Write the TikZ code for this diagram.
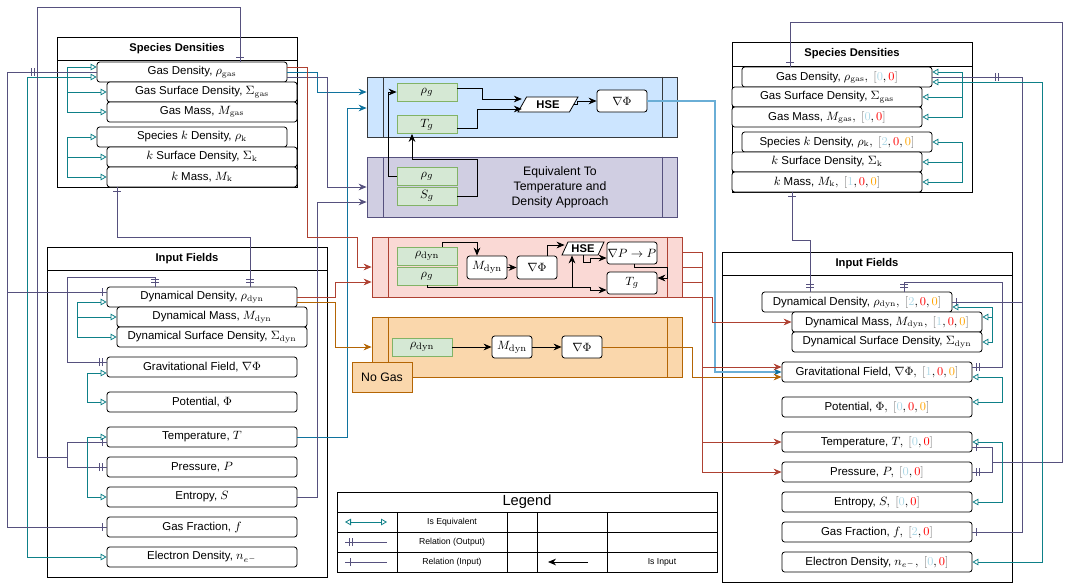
\documentclass[tikz,border=0pt]{standalone}
\usepackage{amsmath}
\usepackage[no-math]{fontspec}
\setmainfont{Liberation Sans}
\usepackage{tikz}
\usetikzlibrary{arrows.meta,decorations.markings,shapes.geometric}
\definecolor{eqteal}{HTML}{0E8088}
\definecolor{relpurple}{HTML}{56517E}
\definecolor{inblue}{HTML}{10739E}
\definecolor{lineblue}{HTML}{6AAED6}
\definecolor{inred}{HTML}{AE4132}
\definecolor{inorange}{HTML}{B46504}
\definecolor{fillblue}{HTML}{CCE5FF}
\definecolor{fillpurple}{HTML}{D0CEE2}
\definecolor{fillred}{HTML}{FAD9D5}
\definecolor{fillorange}{HTML}{FAD7AC}
\definecolor{fillgreen}{HTML}{D5E8D4}
\definecolor{strokegreen}{HTML}{82B366}
\definecolor{boxgray}{HTML}{36393D}
\definecolor{vblue}{HTML}{ADD8E6}
\definecolor{vred}{HTML}{FF0000}
\definecolor{vorange}{HTML}{FFA500}
\newcommand{\vtwo}[2]{\textcolor{gray}{[}\textcolor{vblue}{#1},\textcolor{vred}{#2}\textcolor{gray}{]}}
\newcommand{\vthree}[3]{\textcolor{gray}{[}\textcolor{vblue}{#1},\textcolor{vred}{#2},\textcolor{vorange}{#3}\textcolor{gray}{]}}

\begin{document}
\begin{tikzpicture}[x=0.75pt, y=-0.75pt, line width=0.6pt,
	fld/.style={draw, rounded corners=2pt, fill=white, minimum width=142.5pt, minimum height=15pt, inner sep=0pt, font=\fontsize{8.6}{10}\selectfont},
	hdr/.style={draw, fill=white, inner sep=0pt, font=\fontsize{8.4}{10}\selectfont\bfseries},
	cnt/.style={draw, inner sep=0pt},
	gbox/.style={draw=strokegreen, fill=fillgreen, minimum width=45pt, minimum height=13.5pt, inner sep=0pt, font=\fontsize{9.5}{10}\selectfont},
	calcbox/.style={draw, rounded corners=2pt, fill=white, inner sep=0pt, font=\fontsize{9.5}{10}\selectfont},
	hse/.style={trapezium, trapezium left angle=60, trapezium right angle=120, trapezium stretches=true, draw, fill=white, inner sep=0pt, font=\fontsize{8.4}{9}\selectfont\bfseries},
	legtxt/.style={font=\fontsize{6.5}{7.5}\selectfont},
	rel/.style={draw=relpurple},
	erbar/.style={postaction={decorate, decoration={markings, mark=at position #1 with {\draw[relpurple, line width=0.6pt] (0, -3pt) -- (0, 3pt);}}}},
	eqv/.style={draw=eqteal, {Triangle[open, length=4.5pt, width=5pt]}-{Triangle[open, length=4.5pt, width=5pt]}},
	eqto/.style={draw=eqteal, -{Triangle[open, length=4.5pt, width=5pt]}},
	inp/.style={-{Stealth[length=6pt, width=5pt]}}
	]
	\useasboundingbox (0, 0) rectangle (1072, 583);

	\node[hdr, minimum width=180pt, minimum height=17.25pt] (spLh) at (177, 48.5) {Species Densities};
	\node[cnt, minimum width=180pt, minimum height=95.25pt] (spL) at (177, 123.5) {};
	\node[fld] (gasdL) at (192, 72) {Gas Density, \(\rho_{\mathrm{gas}}\)};
	\node[fld] (gassL) at (202, 92) {Gas Surface Density, \(\Sigma_{\mathrm{gas}}\)};
	\node[fld] (gasmL) at (202, 112) {Gas Mass, \(M_{\mathrm{gas}}\)};
	\node[fld] (kdL) at (192, 137) {Species \(k\) Density, \(\rho_{\mathrm{k}}\)};
	\node[fld] (ksL) at (202, 157) {\(k\) Surface Density, \(\Sigma_{\mathrm{k}}\)};
	\node[fld] (kmL) at (202, 177) {\(k\) Mass, \(M_{\mathrm{k}}\)};

	\node[hdr, minimum width=210pt, minimum height=17.25pt] (ifLh) at (187, 258.5) {Input Fields};
	\node[cnt, minimum width=210pt, minimum height=230.25pt] (ifL) at (187, 423.5) {};
	\node[fld] (dyndL) at (202, 297) {Dynamical Density, \(\rho_{\mathrm{dyn}}\)};
	\node[fld] (dynmL) at (212, 317) {Dynamical Mass, \(M_{\mathrm{dyn}}\)};
	\node[fld] (dynsL) at (212, 337) {Dynamical Surface Density, \(\Sigma_{\mathrm{dyn}}\)};
	\node[fld] (gravL) at (202, 367) {Gravitational Field, \(\nabla\Phi\)};
	\node[fld] (potL) at (202, 402) {Potential, \(\Phi\)};
	\node[fld] (tempL) at (202, 437) {Temperature, \(T\)};
	\node[fld] (presL) at (202, 467) {Pressure, \(P\)};
	\node[fld] (entL) at (202, 497) {Entropy, \(S\)};
	\node[fld] (gfL) at (202, 527) {Gas Fraction, \(f\)};
	\node[fld] (eldL) at (202, 557) {Electron Density, \(n_{e^-}\)};

	\node[hdr, minimum width=180pt, minimum height=18pt] (spRh) at (852, 54) {Species Densities};
	\node[cnt, minimum width=180pt, minimum height=94.5pt] (spR) at (852, 129) {};
	\node[fld] (gasdR) at (837, 77) {Gas Density, \(\rho_{\mathrm{gas}},\ \vtwo{0}{0}\)};
	\node[fld] (gassR) at (827, 97) {Gas Surface Density, \(\Sigma_{\mathrm{gas}}\)};
	\node[fld] (gasmR) at (827, 117) {Gas Mass, \(M_{\mathrm{gas}},\ \vtwo{0}{0}\)};
	\node[fld] (kdR) at (837, 142) {Species \(k\) Density, \(\rho_{\mathrm{k}},\ \vthree{2}{0}{0}\)};
	\node[fld] (ksR) at (827, 162) {\(k\) Surface Density, \(\Sigma_{\mathrm{k}}\)};
	\node[fld] (kmR) at (827, 182) {\(k\) Mass, \(M_{\mathrm{k}},\ \vthree{1}{0}{0}\)};

	\node[hdr, minimum width=217.5pt, minimum height=17.25pt] (ifRh) at (867, 263.5) {Input Fields};
	\node[cnt, minimum width=217.5pt, minimum height=230.25pt] (ifR) at (867, 428.5) {};
	\node[fld] (dyndR) at (857, 302) {Dynamical Density, \(\rho_{\mathrm{dyn}},\ \vthree{2}{0}{0}\)};
	\node[fld] (dynmR) at (887, 322) {Dynamical Mass, \(M_{\mathrm{dyn}},\ \vthree{1}{0}{0}\)};
	\node[fld] (dynsR) at (887, 342) {Dynamical Surface Density, \(\Sigma_{\mathrm{dyn}}\)};
	\node[fld] (gravR) at (877, 372) {Gravitational Field, \(\nabla\Phi,\ \vthree{1}{0}{0}\)};
	\node[fld] (potR) at (877, 407) {Potential, \(\Phi,\ \vthree{0}{0}{0}\)};
	\node[fld] (tempR) at (877, 442) {Temperature, \(T,\ \vtwo{0}{0}\)};
	\node[fld] (presR) at (877, 472) {Pressure, \(P,\ \vtwo{0}{0}\)};
	\node[fld] (entR) at (877, 502) {Entropy, \(S,\ \vtwo{0}{0}\)};
	\node[fld] (gfR) at (877, 532) {Gas Fraction, \(f,\ \vtwo{2}{0}\)};
	\node[fld] (eldR) at (877, 562) {Electron Density, \(n_{e^-},\ \vtwo{0}{0}\)};

	\node[draw=boxgray, fill=fillblue, minimum width=232.5pt, minimum height=45pt, inner sep=0pt] (tdbox) at (522, 107) {};
	\draw[boxgray] (tdbox.north -| 383,0) -- (tdbox.south -| 383,0);
	\draw[boxgray] (tdbox.north -| 662,0) -- (tdbox.south -| 662,0);
	\node[gbox] (rhogB) at (427, 92) {\(\rho_g\)};
	\node[gbox] (TgB) at (427, 124.5) {\(T_g\)};
	\node[hse, minimum width=45pt, minimum height=11.25pt] (hseB) at (548, 104.5) {HSE};
	\node[calcbox, minimum width=37.5pt, minimum height=16.5pt] (gphiB) at (622, 101) {\(\nabla\Phi\)};

	\node[draw=relpurple, fill=fillpurple, minimum width=232.5pt, minimum height=45pt, inner sep=0pt] (sebox) at (522, 187) {};
	\draw[relpurple] (sebox.north -| 383,0) -- (sebox.south -| 383,0);
	\draw[relpurple] (sebox.north -| 662,0) -- (sebox.south -| 662,0);
	\node[gbox] (rhogP) at (427, 176) {\(\rho_g\)};
	\node[gbox] (SgP) at (427, 196) {\(S_g\)};
	\node[align=center, font=\fontsize{9.2}{11.25}\selectfont] (eqtxt) at (560, 187) {Equivalent To\\Temperature and\\Density Approach};

	\node[draw=inred, fill=fillred, minimum width=232.5pt, minimum height=45pt, inner sep=0pt] (hydbox) at (527, 267) {};
	\draw[inred] (hydbox.north -| 388,0) -- (hydbox.south -| 388,0);
	\draw[inred] (hydbox.north -| 667,0) -- (hydbox.south -| 667,0);
	\node[gbox] (rdynR) at (427, 256) {\(\rho_{\mathrm{dyn}}\)};
	\node[gbox] (rgR) at (427, 276) {\(\rho_g\)};
	\node[calcbox, minimum width=30pt, minimum height=17.25pt] (mdynR) at (487, 267.5) {\(M_{\mathrm{dyn}}\)};
	\node[calcbox, minimum width=30pt, minimum height=17.25pt] (gphiR) at (537, 267.5) {\(\nabla\Phi\)};
	\node[hse, minimum width=31.5pt, minimum height=9.75pt] (hseR) at (583, 248.5) {HSE};
	\node[calcbox, minimum width=37.5pt, minimum height=16.5pt] (gpR) at (632, 253) {\(\nabla P \rightarrow P\)};
	\node[calcbox, minimum width=37.5pt, minimum height=16.5pt] (tgR) at (632, 283) {\(T_g\)};

	\node[draw=inorange, fill=fillorange, minimum width=232.5pt, minimum height=45pt, inner sep=0pt] (ngbox) at (527, 347) {};
	\draw[inorange] (ngbox.north -| 388,0) -- (ngbox.south -| 388,0);
	\draw[inorange] (ngbox.north -| 667,0) -- (ngbox.south -| 667,0);
	\node[gbox] (rdynO) at (422, 347) {\(\rho_{\mathrm{dyn}}\)};
	\node[calcbox, minimum width=30pt, minimum height=16.5pt] (mdynO) at (512, 347) {\(M_{\mathrm{dyn}}\)};
	\node[calcbox, minimum width=30pt, minimum height=16.5pt] (gphiO) at (582, 347) {\(\nabla\Phi\)};
	\node[draw=inorange, fill=fillorange, minimum width=45pt, minimum height=22.5pt, inner sep=0pt, font=\fontsize{9.2}{10}\selectfont] (nogas) at (382, 377) {No Gas};

	\node[draw, minimum width=285pt, minimum height=60pt, inner sep=0pt] (legend) at (527, 532) {};
	\draw (337, 512) -- (717, 512);
	\draw (337, 532) -- (717, 532);
	\draw (337, 552) -- (717, 552);
	\draw (397, 512) -- (397, 572);
	\draw (507, 512) -- (507, 572);
	\draw (537, 512) -- (537, 572);
	\draw (607, 512) -- (607, 572);
	\node[font=\fontsize{11}{12}\selectfont] (legt) at (527, 502) {Legend};
	\node[legtxt] (lgeq) at (452, 522) {Is Equivalent};
	\node[legtxt] (lgout) at (452, 542) {Relation (Output)};
	\node[legtxt] (lgin) at (452, 562) {Relation (Input)};
	\node[legtxt] (lginp) at (662, 562) {Is Input};
	\coordinate (lgeqa) at (345, 522);
	\coordinate (lgeqb) at (387, 522);
	\coordinate (lgouta) at (345, 542);
	\coordinate (lgoutb) at (387, 542);
	\coordinate (lgina) at (345, 562);
	\coordinate (lginb) at (387, 562);
	\coordinate (lginpa) at (588, 562);
	\coordinate (lginpb) at (548, 562);
	\draw[eqv] (lgeqa) -- (lgeqb);
	\draw[rel, erbar=3pt, erbar=5.5pt] (lgouta) -- (lgoutb);
	\draw[rel, erbar=4pt] (lgina) -- (lginb);
	\draw[inp] (lginpa) -- (lginpb);

	\draw[eqv] (gasdL.west |- 0,77) -- (27, 77) -- (27, 557) -- (eldL.west);
	\draw[eqv] (gasdL.west |- 0,67) -| (67, 112) -- (gasmL.west);
	\draw[eqto] (67, 92) -- (gassL.west);
	\draw[eqv] (kdL.west) -| (67, 177) -- (kmL.west);
	\draw[eqto] (67, 157) -- (ksL.west);
	\draw[rel, erbar=3pt, erbar=-46.5pt, erbar=-49pt] (gfL.west) -- (7, 527) |- (gasdL.west |- 0,72);
	\draw[rel, erbar=-3pt] (7, 292) -- (dyndL.west |- 0,292);
	\draw[rel, erbar=-3pt] (67, 457) -| (37, 7) -| (gasdL.north -| 240,0);
	\draw[rel, erbar=3pt, erbar=-3pt, erbar=-5.5pt] (tempL.west |- 0,442) -| (67, 467) -- (presL.west);
	\draw[rel, erbar=3pt, erbar=-3pt, erbar=-5.5pt] (kmL.south -| 117,0) -- (117, 237) -| (dyndL.north -| 250,0);
	\draw[rel, erbar=3pt, erbar=5.5pt, erbar=-3pt, erbar=-5.5pt] (dyndL.north -| 155,0) |- (67, 277) |- (gravL.west |- 0,362);
	\draw[eqv] (dyndL.west |- 0,302) -| (77, 337) -- (dynsL.west);
	\draw[eqto] (77, 317) -- (dynmL.west);
	\draw[eqv] (gravL.west |- 0,373) -| (87, 402) -- (potL.west);
	\draw[eqv] (tempL.west |- 0,437) -| (87, 497) -- (entL.west);

	\draw[inblue, inp] (tempL.east) -| (347, 108) -- (tdbox.west |- 0,108);
	\draw[inblue, inp] (gasdL.east |- 0,72) -| (317, 92) -- (tdbox.west |- 0,92);
	\draw[relpurple, inp] (gasdL.east |- 0,77) -| (327, 187) -- (sebox.west |- 0,187);
	\draw[relpurple, inp] (entL.east) -| (317, 202) -- (sebox.west |- 0,202);
	\draw[inred, inp] (gasdL.east |- 0,67) -| (307, 237) -| (357, 267) -- (hydbox.west |- 0,267);
	\draw[inred, inp] (dyndL.east |- 0,297) -| (335, 282) -- (hydbox.west |- 0,282);
	\draw[inorange, inp] (dyndL.east |- 0,302) -| (335, 347) -- (ngbox.west);

	\draw[inp] (rhogB.east |- 0,88) -| (482, 99) -- (hseB.west |- 0,99);
	\draw[inp] (TgB.east |- 0,128) -| (477, 109) -- (hseB.west |- 0,109);
	\draw[inp] (hseB.east) -- ++(3, 0) |- (gphiB.west);
	\draw[inp] (rhogP.west) -| (388, 92) -- (rhogB.west);
	\draw[inp] (SgP.east) -| (477, 159) -| (TgB.south -| 412,0);
	\draw[lineblue, line width=0.8pt, -{Stealth[length=6pt, width=5pt, color=inblue]}] (gphiB.east) -| (715, 372) -- (gravR.west |- 0,372);

	\draw[inp] (rdynR.north -| 442,0) |- (477, 242) -- (mdynR.north -| 477,0);
	\draw[inp] (mdynR) -- (gphiR);
	\draw[inp] (gphiR.north -| 547,0) |- (hseR.west |- 0,245);
	\draw[inp] (rgR.south -| 427,0) |- (590, 287) |- (tgR.west |- 0,290);
	\draw[inp] (572, 287) -- (hseR.south -| 572,0);
	\draw[inp] (hseR.south -| 583,0) -- (583, 262) -| (590, 258) -- (gpR.west |- 0,258);
	\draw[inp] (gpR.south -| 634,0) |- (667, 267) |- (tgR.east |- 0,278);

	\draw[inp] (rdynO) -- (mdynO);
	\draw[inp] (mdynO) -- (gphiO);
	\draw[inorange, inp] (gphiO.east) -| (692, 377) -- (gravR.west |- 0,377);

	\draw[inred, inp] (hydbox.east |- 0,252) -| (702, 472) -- (presR.west);
	\draw[inred] (hydbox.east |- 0,267) -- (702, 267);
	\draw[inred] (hydbox.east |- 0,282) -- (702, 282);
	\draw[inred, inp] (702, 367) -- (gravR.west |- 0,367);
	\draw[inred, inp] (702, 442) -- (tempR.west);
	\draw[inred, inp] (hydbox.south east) -| (712, 322) -- (dynmR.west);

	\draw[rel, erbar=3pt] (gasdR.north -| 790,0) |- (1062, 22) |- (992, 462);
	\draw[rel, erbar=3pt, erbar=-3pt, erbar=-5.5pt] (tempR.east |- 0,447) -| (992, 472) -- (presR.east);
	\draw[rel, erbar=47pt, erbar=49.5pt, erbar=-3pt] (gasdR.east |- 0,77) -| (1022, 532) -- (gfR.east);
	\draw[rel, erbar=-3pt] (1022, 302) -- (dyndR.east |- 0,302);
	\draw[eqv] (gasdR.east |- 0,82) -| (1042, 562) -- (eldR.east);
	\draw[eqv] (gasdR.east |- 0,72) -| (962, 117) -- (gasmR.east);
	\draw[eqto] (962, 97) -- (gassR.east);
	\draw[eqv] (kdR.east) -| (962, 182) -- (kmR.east);
	\draw[eqto] (962, 162) -- (ksR.east);
	\draw[rel, erbar=3pt, erbar=-3pt, erbar=-5.5pt] (kmR.south -| 792,0) -- (792, 240) -| (dyndR.north -| 810,0);
	\draw[rel, erbar=3pt, erbar=5.5pt, erbar=-3pt, erbar=-5.5pt] (dyndR.north -| 904,0) |- (1002, 282) |- (gravR.east |- 0,367);
	\draw[eqv] (dyndR.east |- 0,307) -| (992, 342) -- (dynsR.east);
	\draw[eqto] (992, 317) -- (dynmR.east |- 0,317);
	\draw[eqv] (gravR.east |- 0,377) -| (1002, 402) -- (potR.east |- 0,402);
	\draw[eqv] (tempR.east |- 0,442) -| (1002, 502) -- (entR.east);
\end{tikzpicture}
\end{document}
